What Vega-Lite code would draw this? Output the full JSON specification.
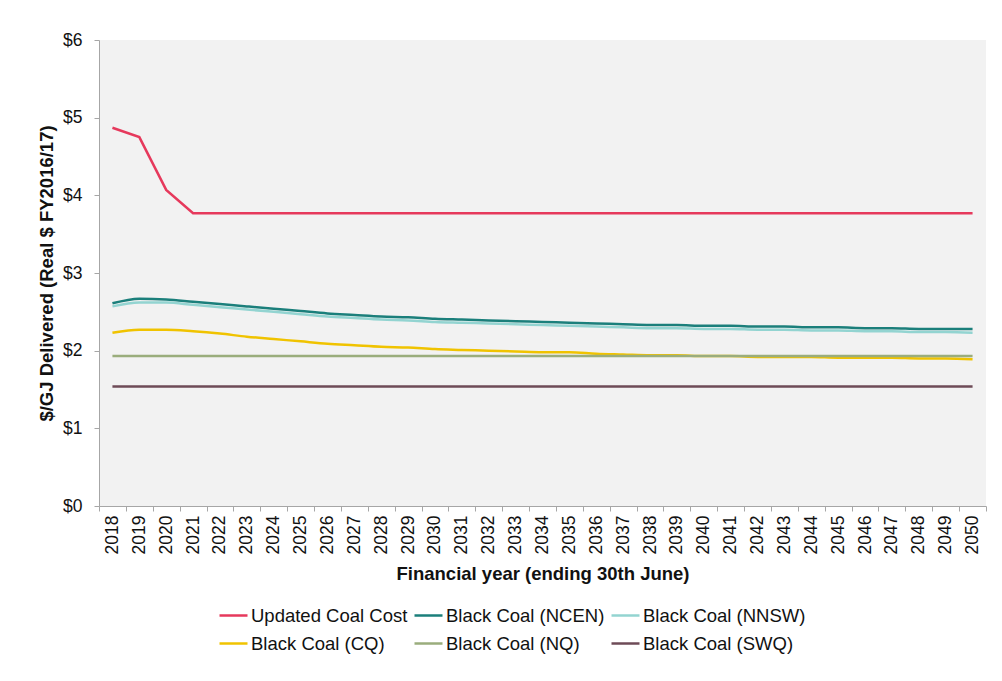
{
  "$schema": "https://vega.github.io/schema/vega-lite/v6.json",
  "width": 887,
  "height": 466,
  "autosize": "none",
  "padding": {"left": 99, "top": 40, "right": 16, "bottom": 175},
  "background": "#ffffff",
  "config": {
    "font": "Liberation Sans",
    "view": {"fill": "#f2f2f2", "stroke": null},
    "axis": {
      "labelFont": "Liberation Sans",
      "titleFont": "Liberation Sans",
      "labelColor": "#111111",
      "titleColor": "#111111",
      "domainColor": "#a6a6a6",
      "tickColor": "#a6a6a6",
      "grid": false
    },
    "legend": {"labelFont": "Liberation Sans"}
  },
  "data": {
    "values": [
      {"year": "2018", "Updated Coal Cost": 4.87, "Black Coal (NCEN)": 2.61, "Black Coal (NNSW)": 2.57, "Black Coal (CQ)": 2.23, "Black Coal (NQ)": 1.93, "Black Coal (SWQ)": 1.54},
      {"year": "2019", "Updated Coal Cost": 4.75, "Black Coal (NCEN)": 2.67, "Black Coal (NNSW)": 2.62, "Black Coal (CQ)": 2.27, "Black Coal (NQ)": 1.93, "Black Coal (SWQ)": 1.54},
      {"year": "2020", "Updated Coal Cost": 4.07, "Black Coal (NCEN)": 2.66, "Black Coal (NNSW)": 2.62, "Black Coal (CQ)": 2.27, "Black Coal (NQ)": 1.93, "Black Coal (SWQ)": 1.54},
      {"year": "2021", "Updated Coal Cost": 3.77, "Black Coal (NCEN)": 2.63, "Black Coal (NNSW)": 2.59, "Black Coal (CQ)": 2.25, "Black Coal (NQ)": 1.93, "Black Coal (SWQ)": 1.54},
      {"year": "2022", "Updated Coal Cost": 3.77, "Black Coal (NCEN)": 2.60, "Black Coal (NNSW)": 2.56, "Black Coal (CQ)": 2.22, "Black Coal (NQ)": 1.93, "Black Coal (SWQ)": 1.54},
      {"year": "2023", "Updated Coal Cost": 3.77, "Black Coal (NCEN)": 2.57, "Black Coal (NNSW)": 2.53, "Black Coal (CQ)": 2.18, "Black Coal (NQ)": 1.93, "Black Coal (SWQ)": 1.54},
      {"year": "2024", "Updated Coal Cost": 3.77, "Black Coal (NCEN)": 2.54, "Black Coal (NNSW)": 2.50, "Black Coal (CQ)": 2.15, "Black Coal (NQ)": 1.93, "Black Coal (SWQ)": 1.54},
      {"year": "2025", "Updated Coal Cost": 3.77, "Black Coal (NCEN)": 2.51, "Black Coal (NNSW)": 2.47, "Black Coal (CQ)": 2.12, "Black Coal (NQ)": 1.93, "Black Coal (SWQ)": 1.54},
      {"year": "2026", "Updated Coal Cost": 3.77, "Black Coal (NCEN)": 2.48, "Black Coal (NNSW)": 2.44, "Black Coal (CQ)": 2.09, "Black Coal (NQ)": 1.93, "Black Coal (SWQ)": 1.54},
      {"year": "2027", "Updated Coal Cost": 3.77, "Black Coal (NCEN)": 2.46, "Black Coal (NNSW)": 2.42, "Black Coal (CQ)": 2.07, "Black Coal (NQ)": 1.93, "Black Coal (SWQ)": 1.54},
      {"year": "2028", "Updated Coal Cost": 3.77, "Black Coal (NCEN)": 2.44, "Black Coal (NNSW)": 2.40, "Black Coal (CQ)": 2.05, "Black Coal (NQ)": 1.93, "Black Coal (SWQ)": 1.54},
      {"year": "2029", "Updated Coal Cost": 3.77, "Black Coal (NCEN)": 2.43, "Black Coal (NNSW)": 2.39, "Black Coal (CQ)": 2.04, "Black Coal (NQ)": 1.93, "Black Coal (SWQ)": 1.54},
      {"year": "2030", "Updated Coal Cost": 3.77, "Black Coal (NCEN)": 2.41, "Black Coal (NNSW)": 2.37, "Black Coal (CQ)": 2.02, "Black Coal (NQ)": 1.93, "Black Coal (SWQ)": 1.54},
      {"year": "2031", "Updated Coal Cost": 3.77, "Black Coal (NCEN)": 2.40, "Black Coal (NNSW)": 2.36, "Black Coal (CQ)": 2.01, "Black Coal (NQ)": 1.93, "Black Coal (SWQ)": 1.54},
      {"year": "2032", "Updated Coal Cost": 3.77, "Black Coal (NCEN)": 2.39, "Black Coal (NNSW)": 2.35, "Black Coal (CQ)": 2.00, "Black Coal (NQ)": 1.93, "Black Coal (SWQ)": 1.54},
      {"year": "2033", "Updated Coal Cost": 3.77, "Black Coal (NCEN)": 2.38, "Black Coal (NNSW)": 2.34, "Black Coal (CQ)": 1.99, "Black Coal (NQ)": 1.93, "Black Coal (SWQ)": 1.54},
      {"year": "2034", "Updated Coal Cost": 3.77, "Black Coal (NCEN)": 2.37, "Black Coal (NNSW)": 2.33, "Black Coal (CQ)": 1.98, "Black Coal (NQ)": 1.93, "Black Coal (SWQ)": 1.54},
      {"year": "2035", "Updated Coal Cost": 3.77, "Black Coal (NCEN)": 2.36, "Black Coal (NNSW)": 2.32, "Black Coal (CQ)": 1.98, "Black Coal (NQ)": 1.93, "Black Coal (SWQ)": 1.54},
      {"year": "2036", "Updated Coal Cost": 3.77, "Black Coal (NCEN)": 2.35, "Black Coal (NNSW)": 2.31, "Black Coal (CQ)": 1.96, "Black Coal (NQ)": 1.93, "Black Coal (SWQ)": 1.54},
      {"year": "2037", "Updated Coal Cost": 3.77, "Black Coal (NCEN)": 2.34, "Black Coal (NNSW)": 2.30, "Black Coal (CQ)": 1.95, "Black Coal (NQ)": 1.93, "Black Coal (SWQ)": 1.54},
      {"year": "2038", "Updated Coal Cost": 3.77, "Black Coal (NCEN)": 2.33, "Black Coal (NNSW)": 2.29, "Black Coal (CQ)": 1.94, "Black Coal (NQ)": 1.93, "Black Coal (SWQ)": 1.54},
      {"year": "2039", "Updated Coal Cost": 3.77, "Black Coal (NCEN)": 2.33, "Black Coal (NNSW)": 2.29, "Black Coal (CQ)": 1.94, "Black Coal (NQ)": 1.93, "Black Coal (SWQ)": 1.54},
      {"year": "2040", "Updated Coal Cost": 3.77, "Black Coal (NCEN)": 2.32, "Black Coal (NNSW)": 2.28, "Black Coal (CQ)": 1.93, "Black Coal (NQ)": 1.93, "Black Coal (SWQ)": 1.54},
      {"year": "2041", "Updated Coal Cost": 3.77, "Black Coal (NCEN)": 2.32, "Black Coal (NNSW)": 2.28, "Black Coal (CQ)": 1.93, "Black Coal (NQ)": 1.93, "Black Coal (SWQ)": 1.54},
      {"year": "2042", "Updated Coal Cost": 3.77, "Black Coal (NCEN)": 2.31, "Black Coal (NNSW)": 2.27, "Black Coal (CQ)": 1.92, "Black Coal (NQ)": 1.93, "Black Coal (SWQ)": 1.54},
      {"year": "2043", "Updated Coal Cost": 3.77, "Black Coal (NCEN)": 2.31, "Black Coal (NNSW)": 2.27, "Black Coal (CQ)": 1.92, "Black Coal (NQ)": 1.93, "Black Coal (SWQ)": 1.54},
      {"year": "2044", "Updated Coal Cost": 3.77, "Black Coal (NCEN)": 2.30, "Black Coal (NNSW)": 2.26, "Black Coal (CQ)": 1.92, "Black Coal (NQ)": 1.93, "Black Coal (SWQ)": 1.54},
      {"year": "2045", "Updated Coal Cost": 3.77, "Black Coal (NCEN)": 2.30, "Black Coal (NNSW)": 2.26, "Black Coal (CQ)": 1.91, "Black Coal (NQ)": 1.93, "Black Coal (SWQ)": 1.54},
      {"year": "2046", "Updated Coal Cost": 3.77, "Black Coal (NCEN)": 2.29, "Black Coal (NNSW)": 2.25, "Black Coal (CQ)": 1.91, "Black Coal (NQ)": 1.93, "Black Coal (SWQ)": 1.54},
      {"year": "2047", "Updated Coal Cost": 3.77, "Black Coal (NCEN)": 2.29, "Black Coal (NNSW)": 2.25, "Black Coal (CQ)": 1.91, "Black Coal (NQ)": 1.93, "Black Coal (SWQ)": 1.54},
      {"year": "2048", "Updated Coal Cost": 3.77, "Black Coal (NCEN)": 2.28, "Black Coal (NNSW)": 2.24, "Black Coal (CQ)": 1.90, "Black Coal (NQ)": 1.93, "Black Coal (SWQ)": 1.54},
      {"year": "2049", "Updated Coal Cost": 3.77, "Black Coal (NCEN)": 2.28, "Black Coal (NNSW)": 2.24, "Black Coal (CQ)": 1.90, "Black Coal (NQ)": 1.93, "Black Coal (SWQ)": 1.54},
      {"year": "2050", "Updated Coal Cost": 3.77, "Black Coal (NCEN)": 2.28, "Black Coal (NNSW)": 2.23, "Black Coal (CQ)": 1.89, "Black Coal (NQ)": 1.93, "Black Coal (SWQ)": 1.54}
    ]
  },
  "transform": [
    {"fold": ["Updated Coal Cost", "Black Coal (NCEN)", "Black Coal (NNSW)", "Black Coal (CQ)", "Black Coal (NQ)", "Black Coal (SWQ)"], "as": ["series", "value"]}
  ],
  "encoding": {
    "x": {
      "field": "year",
      "type": "ordinal",
      "scale": {"type": "band", "paddingInner": 0, "paddingOuter": 0},
      "axis": {
        "title": "Financial year (ending 30th June)",
        "titleFontSize": 18.5,
        "titleFontWeight": "bold",
        "titlePadding": 11,
        "labelAngle": -90,
        "labelFontSize": 17.5,
        "labelPadding": 4,
        "tickSize": 5,
        "tickBand": "extent"
      }
    },
    "y": {
      "field": "value",
      "type": "quantitative",
      "scale": {"domain": [0, 6], "nice": false},
      "axis": {
        "title": "$/GJ Delivered (Real $ FY2016/17)",
        "titleFontSize": 18.5,
        "titleFontWeight": "bold",
        "titlePadding": 6,
        "values": [0, 1, 2, 3, 4, 5, 6],
        "format": "$.0f",
        "labelFontSize": 17.5,
        "labelPadding": 12,
        "tickSize": 5
      }
    },
    "color": {
      "field": "series",
      "type": "nominal",
      "scale": {
        "domain": ["Updated Coal Cost", "Black Coal (NCEN)", "Black Coal (NNSW)", "Black Coal (CQ)", "Black Coal (NQ)", "Black Coal (SWQ)"],
        "range": ["#e6395c", "#1b7f7b", "#93d4d1", "#f0c300", "#9aad7c", "#6e4b57"]
      },
      "legend": {
        "title": null,
        "orient": "none",
        "legendX": 119,
        "legendY": 560,
        "direction": "horizontal",
        "columns": 3,
        "columnPadding": 1,
        "rowPadding": 3,
        "symbolType": "stroke",
        "symbolSize": 784,
        "symbolStrokeWidth": 2.5,
        "labelFontSize": 18.5,
        "labelColor": "#111111",
        "labelOffset": 2,
        "labelLimit": 400
      }
    }
  },
  "layer": [
    {
      "transform": [{"filter": "datum.series !== 'Updated Coal Cost'"}],
      "mark": {"type": "line", "strokeWidth": 2.5, "interpolate": "monotone"}
    },
    {
      "transform": [{"filter": "datum.series === 'Updated Coal Cost'"}],
      "mark": {"type": "line", "strokeWidth": 2.5, "interpolate": "linear"}
    }
  ]
}
